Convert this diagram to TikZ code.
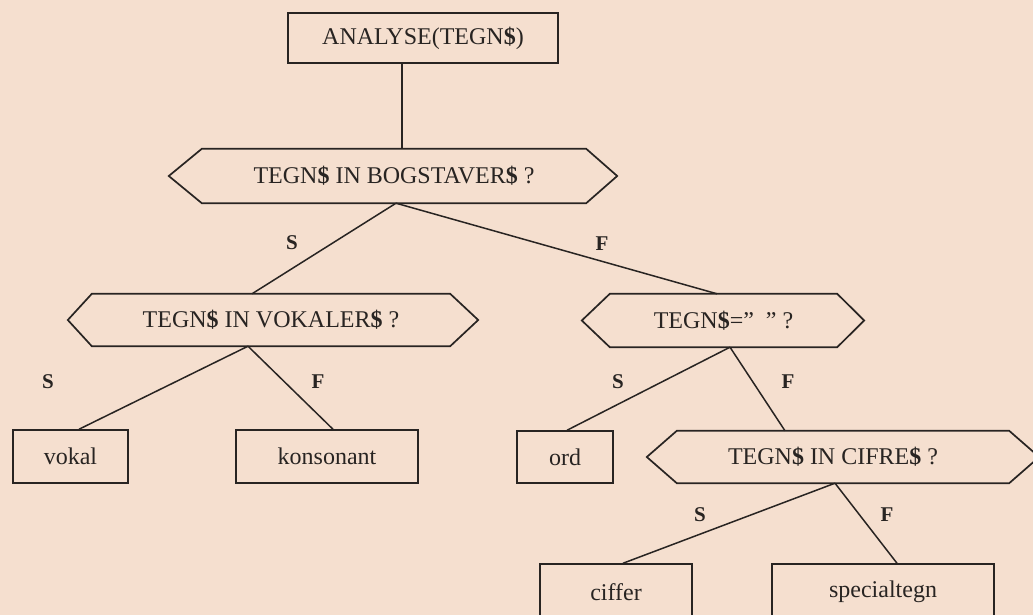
\documentclass[tikz,border=0pt]{standalone}
\usepackage{fontspec}
\setmainfont{Liberation Serif}
\definecolor{paper}{RGB}{245,223,207}
\definecolor{ink}{RGB}{40,36,34}
\newcommand\hexout[3]{\draw[hexline] ([xshift=-#2]#1.west) -- (#1.north west) -- (#1.north east) -- ([xshift=#3]#1.east) -- (#1.south east) -- (#1.south west) -- cycle;}
\newcommand\dol{\textbf{\$}}
\begin{document}
\begin{tikzpicture}[x=1pt,y=-1pt,
  every node/.style={text=ink, inner sep=0pt, font=\fontsize{24}{28}\selectfont},
  boxnode/.style={draw=ink, line width=1.5pt},
  hexbody/.style={inner sep=0pt},
  hexline/.style={draw=ink, line width=1.7pt, line join=miter},
  conn/.style={draw=ink, line width=1.5pt},
  lbl/.style={font=\bfseries\fontsize{21}{25}\selectfont}]
\useasboundingbox (0,0) rectangle (1033,615);
\fill[paper] (0,0) rectangle (1033,615);
\clip (0,0) rectangle (1033,615);

% boxes
\node[boxnode, minimum width=270pt, minimum height=50pt] (top) at (423,38) {ANALYSE(TEGN\dol)};
\node[boxnode, minimum width=115pt, minimum height=53pt] (vokal) at (70.5,456.5) {vokal};
\node[boxnode, minimum width=182pt, minimum height=53pt] (kons) at (327,456.5) {konsonant};
\node[boxnode, minimum width=96pt, minimum height=52pt] (ord) at (565,457) {ord};
\node[boxnode, minimum width=152pt, minimum height=56pt] (ciffer) at (616,592) {ciffer};
\node[boxnode, minimum width=222pt, minimum height=56pt] (spec) at (883,592) {specialtegn};

% decision hexagons
\node[hexbody, minimum width=384pt, minimum height=54pt] (h1) at (394,176) {TEGN\dol\ IN BOGSTAVER\dol\ ?};
\hexout{h1}{33pt}{31pt}
\node[hexbody, minimum width=358pt, minimum height=52pt] (h2) at (271,320) {TEGN\dol\ IN VOKALER\dol\ ?};
\hexout{h2}{24pt}{28pt}
\node[hexbody, minimum width=227pt, minimum height=53pt] (h3) at (723.5,320.5) {TEGN\dol=”\hspace{12pt}”\ ?};
\hexout{h3}{28pt}{27pt}
\node[hexbody, minimum width=332pt, minimum height=52pt] (h4) at (843,457) {\hspace{-20pt}TEGN\dol\ IN CIFRE\dol\ ?};
\hexout{h4}{30pt}{30pt}

% connectors
\draw[conn] ([xshift=-21pt]top.south) -- ([xshift=8pt]h1.north);
\draw[conn] ([xshift=2pt]h1.south) -- ([xshift=-19pt]h2.north);
\draw[conn] ([xshift=2pt]h1.south) -- ([xshift=-6.5pt]h3.north);
\draw[conn] ([xshift=-23pt]h2.south) -- ([xshift=8.5pt]vokal.north);
\draw[conn] ([xshift=-23pt]h2.south) -- ([xshift=6pt]kons.north);
\draw[conn] ([xshift=6.5pt]h3.south) -- ([xshift=2pt]ord.north);
\draw[conn] ([xshift=6.5pt]h3.south) -- ([xshift=-58pt]h4.north);
\draw[conn] ([xshift=-8pt]h4.south) -- ([xshift=7pt]ciffer.north);
\draw[conn] ([xshift=-8pt]h4.south) -- ([xshift=14pt]spec.north);

% labels
\node[lbl] (s1) at (292,243) {S};
\node[lbl] (f1) at (602,244) {F};
\node[lbl] (s2) at (48,382) {S};
\node[lbl] (f2) at (318,382) {F};
\node[lbl] (s3) at (618,382) {S};
\node[lbl] (f3) at (788,382) {F};
\node[lbl] (s4) at (700,515) {S};
\node[lbl] (f4) at (887,515) {F};
\end{tikzpicture}
\end{document}
